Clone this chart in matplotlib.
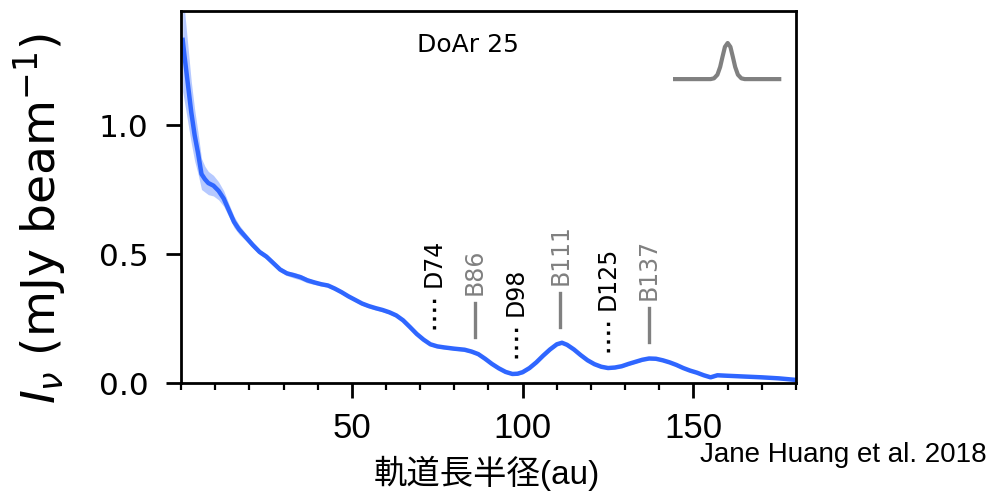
import matplotlib
matplotlib.use('Agg')
import matplotlib.pyplot as plt
import numpy as np

# DoAr 25 radial intensity profile (au, mJy/beam) and 1-sigma scatter
radius = [0.5, 1.0, 2.0, 3.0, 4.0, 5.0, 6.0, 7.0, 8.0, 9.5, 11.0, 12.5, 14.0, 15.5,
          17.0, 19.0, 21.0, 23.0, 25.0, 27.0, 29.0, 31.0, 33.0, 35.0, 37.0, 39.0,
          41.0, 43.0, 45.0, 47.0, 49.0, 51.0, 53.0, 55.0, 57.0, 59.0, 61.0, 63.0,
          65.0, 67.0, 69.0, 71.0, 73.0, 75.0, 77.0, 80.0, 83.0, 85.0, 87.0, 89.0,
          91.0, 93.0, 95.0, 97.0, 98.5, 100.0, 102.0, 104.0, 106.0, 108.0, 110.0,
          111.5, 113.0, 115.0, 117.0, 119.0, 121.0, 123.0, 125.0, 127.0, 129.0,
          131.0, 133.0, 135.0, 137.0, 139.0, 141.0, 143.0, 145.0, 147.0, 149.0,
          151.0, 153.0, 155.0, 157.0, 160.0, 165.0, 170.0, 175.0, 180.0]
intensity = [1.33, 1.27, 1.16, 1.05, 0.96, 0.89, 0.81, 0.79, 0.775, 0.765, 0.745,
             0.715, 0.67, 0.625, 0.595, 0.565, 0.535, 0.508, 0.49, 0.465, 0.44,
             0.425, 0.418, 0.41, 0.398, 0.39, 0.383, 0.378, 0.366, 0.352, 0.336,
             0.322, 0.308, 0.298, 0.29, 0.283, 0.274, 0.262, 0.243, 0.217, 0.19,
             0.168, 0.15, 0.142, 0.138, 0.133, 0.129, 0.122, 0.112, 0.094, 0.074,
             0.057, 0.043, 0.035, 0.036, 0.042, 0.058, 0.08, 0.106, 0.13, 0.15,
             0.156, 0.148, 0.13, 0.108, 0.088, 0.073, 0.063, 0.058, 0.06, 0.065,
             0.074, 0.082, 0.09, 0.095, 0.094, 0.088, 0.08, 0.07, 0.058, 0.048,
             0.04, 0.03, 0.022, 0.03, 0.028, 0.025, 0.022, 0.018, 0.012]
scatter = [0.2, 0.18, 0.15, 0.12, 0.1, 0.08, 0.06, 0.05, 0.045, 0.04, 0.035,
           0.03, 0.025, 0.022, 0.018, 0.014, 0.012, 0.01, 0.009, 0.009, 0.009,
           0.009, 0.011, 0.011, 0.01, 0.008, 0.007, 0.007, 0.007, 0.007, 0.007,
           0.007, 0.007, 0.007, 0.007, 0.007, 0.007, 0.007, 0.007, 0.006, 0.006,
           0.006, 0.006, 0.006, 0.006, 0.006, 0.006, 0.006, 0.006, 0.006, 0.006,
           0.006, 0.006, 0.006, 0.006, 0.006, 0.006, 0.005, 0.005, 0.005, 0.005,
           0.005, 0.005, 0.005, 0.005, 0.005, 0.005, 0.005, 0.005, 0.005, 0.005,
           0.005, 0.005, 0.005, 0.005, 0.005, 0.005, 0.005, 0.005, 0.005, 0.005,
           0.005, 0.005, 0.005, 0.005, 0.005, 0.005, 0.005, 0.005, 0.005]

# gaps (D) and rings (B)
feature_radius = [74, 86, 98, 111, 125, 137]
feature_label = ['D74', 'B86', 'D98', 'B111', 'D125', 'B137']

# beam profile sketch
beam_x = [144.0, 155.0, 156.0, 157.0, 157.8, 158.5, 159.2, 160.0, 160.8, 161.5,
          162.2, 163.0, 164.0, 165.0, 175.7]
beam_y = [1.178, 1.178, 1.181, 1.195, 1.225, 1.265, 1.303, 1.318, 1.303, 1.265,
          1.225, 1.195, 1.181, 1.178, 1.178]

blue = '#2f66ff'
grey = '#808080'

fig = plt.figure(figsize=(10.07, 4.98), dpi=100)
ax = fig.add_axes([181 / 1007, 115 / 498, 615 / 1007, 372 / 498])

r = np.array(radius)
I = np.array(intensity)
s = np.array(scatter)
ax.fill_between(r, I - s, I + s, color=blue, alpha=0.35, linewidth=0)
ax.plot(r, I, color=blue, lw=3.2)

# markers for gaps and rings
for rf, lab in zip(feature_radius, feature_label):
    base = np.interp(rf, r, I)
    if lab.startswith('D'):
        col, ls = 'black', ':'
    else:
        col, ls = grey, '-'
    ax.plot([rf, rf], [base + 0.063, base + 0.195], color=col, ls=ls, lw=2.4)
    ax.text(rf, base + 0.225, lab, rotation=90, ha='center', va='bottom',
            color=col, fontsize=17)

ax.plot(beam_x, beam_y, color=grey, lw=3, solid_capstyle='butt')
ax.text(0.467, 0.909, 'DoAr 25', transform=ax.transAxes, ha='center',
        va='center', fontsize=18)

ax.set_xlim(0, 180)
ax.set_ylim(0, 1.442)
ax.set_xticks([50, 100, 150])
ax.set_xticks(np.arange(0, 181, 10), minor=True)
ax.set_yticks([0.0, 0.5, 1.0])
ax.set_yticklabels(['0.0', '0.5', '1.0'])

for sp in ax.spines.values():
    sp.set_linewidth(2)
ax.tick_params(which='major', length=10.5, width=2)
ax.tick_params(which='minor', length=5, width=1.6)
ax.tick_params(axis='y', labelsize=22.5, pad=13)
ax.tick_params(axis='x', labelsize=25, pad=10.5)
for t in ax.get_xticklabels():
    t.set_fontfamily('Liberation Sans')

ax.set_ylabel(r'$I_\nu$ (mJy beam$^{-1}$)', fontsize=34, va='center')
ax.yaxis.set_label_coords((40 - 181) / 615, 0.443)
ax.set_xlabel('軌道長半径(au)', fontsize=24,
              family=['Liberation Sans', 'Noto Sans CJK JP'])
ax.xaxis.set_label_coords(0.497, (383 - 473) / 372)
ax.xaxis.label.set_va('center')

fig.text(700 / 1007, 1 - 455 / 498, 'Jane Huang et al. 2018', ha='left',
         va='center', fontsize=20, family='Liberation Sans')

plt.savefig('out.png', dpi=100)
